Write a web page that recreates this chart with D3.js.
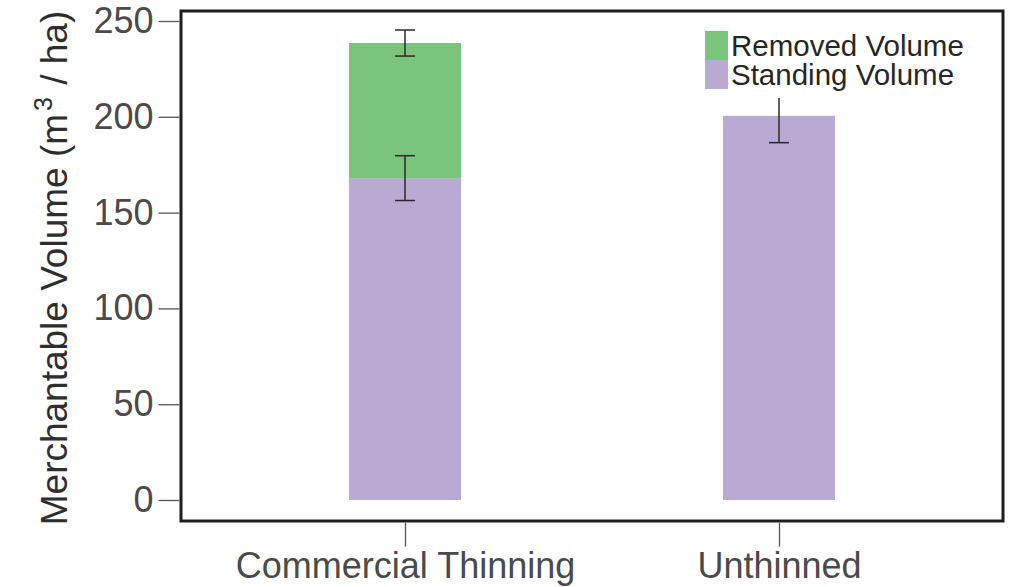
<!DOCTYPE html>
<html>
<head>
<meta charset="utf-8">
<script src="https://cdn.jsdelivr.net/npm/d3@7"></script>
<style>
  html, body { margin: 0; padding: 0; background: #fff; }
  svg { display: block; font-family: "Liberation Sans", Arial, sans-serif; }
</style>
</head>
<body>
<svg id="chart" width="1015" height="587"></svg>
<script>
// Treatments on the x axis
const categories = ["Commercial Thinning", "Unthinned"];
// Stacked volume components (m³/ha)
const standingVolume = [168, 200.5];
const removedVolume = [70.5, 0];
// Error bar half-widths: standing at top of standing segment, total at top of stack
const standingError = [11.7, 14];
const totalError = [6.8, null];
const yTicks = [0, 50, 100, 150, 200, 250];
const seriesNames = ["Removed Volume", "Standing Volume"];
const seriesColors = ["#7bc47c", "#b9aad3"];

const svg = d3.select("#chart");
const box = { left: 181, top: 11, right: 1003, bottom: 521 };

const x = d3.scalePoint().domain(categories).range([405, 779]);
const y = d3.scaleLinear().domain([0, 250]).range([500, 21]);
const barW = 112;

// Bars: standing on the bottom, removed stacked on top
const g = svg.append("g");
categories.forEach((c, i) => {
  g.append("rect")
    .attr("x", x(c) - barW / 2).attr("width", barW)
    .attr("y", y(standingVolume[i])).attr("height", y(0) - y(standingVolume[i]))
    .attr("fill", seriesColors[1]);
  if (removedVolume[i] > 0) {
    const top = standingVolume[i] + removedVolume[i];
    g.append("rect")
      .attr("x", x(c) - barW / 2).attr("width", barW)
      .attr("y", y(top)).attr("height", y(standingVolume[i]) - y(top))
      .attr("fill", seriesColors[0]);
  }
});

// Error bars
function errorBar(cx, mean, err) {
  const cap = 10;
  const eg = svg.append("g").attr("stroke", "#2a2a2a").attr("stroke-width", 1.5);
  eg.append("line").attr("x1", cx).attr("x2", cx).attr("y1", y(mean + err)).attr("y2", y(mean - err));
  eg.append("line").attr("x1", cx - cap).attr("x2", cx + cap).attr("y1", y(mean + err)).attr("y2", y(mean + err));
  eg.append("line").attr("x1", cx - cap).attr("x2", cx + cap).attr("y1", y(mean - err)).attr("y2", y(mean - err));
}
categories.forEach((c, i) => {
  errorBar(x(c), standingVolume[i], standingError[i]);
  if (totalError[i] != null) errorBar(x(c), standingVolume[i] + removedVolume[i], totalError[i]);
});

// Legend (white background)
const rowH = 29;
const lg = svg.append("g").attr("transform", "translate(705,31)");
lg.append("rect").attr("x", 0).attr("y", -2).attr("width", 275).attr("height", 69).attr("fill", "#fff");
seriesNames.forEach((n, i) => {
  lg.append("rect").attr("x", 0).attr("y", i * rowH).attr("width", 23).attr("height", rowH).attr("fill", seriesColors[i]);
  lg.append("text").attr("x", 26).attr("y", i * rowH + 25)
    .attr("font-size", 29.5).attr("fill", "#262626").text(n);
});

// Plot frame
svg.append("rect")
  .attr("x", box.left).attr("y", box.top)
  .attr("width", box.right - box.left).attr("height", box.bottom - box.top)
  .attr("fill", "none").attr("stroke", "#1e1e1e").attr("stroke-width", 3);

// Y axis
const yAxis = svg.append("g").attr("transform", `translate(${box.left - 1.5},0)`)
  .call(d3.axisLeft(y).tickValues(yTicks).tickSize(21).tickPadding(5));
yAxis.select(".domain").remove();
yAxis.selectAll(".tick line").attr("stroke", "#555").attr("stroke-width", 1.3);
yAxis.selectAll(".tick text").attr("font-size", 36).attr("fill", "#4a4a4a")
  .attr("font-family", "Liberation Sans, Arial, sans-serif");

// X axis
const xAxis = svg.append("g").attr("transform", `translate(0,${box.bottom + 1.5})`)
  .call(d3.axisBottom(x).tickSize(24).tickPadding(6));
xAxis.select(".domain").remove();
xAxis.selectAll(".tick line").attr("stroke", "#555").attr("stroke-width", 1.3);
xAxis.selectAll(".tick text").attr("font-size", 36).attr("fill", "#4a4a4a")
  .attr("font-family", "Liberation Sans, Arial, sans-serif");

// Y axis title
const yt = svg.append("text")
  .attr("transform", "translate(67,268) rotate(-90)")
  .attr("text-anchor", "middle").attr("font-size", 37).attr("fill", "#2e2e2e");
yt.append("tspan").text("Merchantable Volume (m");
yt.append("tspan").attr("font-size", 25).attr("dy", -15).attr("dx", 3).text("3");
yt.append("tspan").attr("dy", 15).attr("dx", 2).text(" / ha)");
</script>
</body>
</html>
